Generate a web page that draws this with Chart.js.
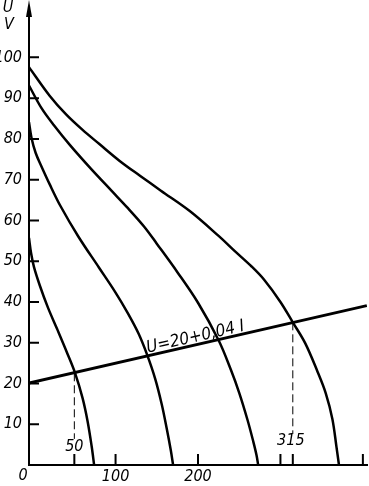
<!DOCTYPE html>
<html>
<head>
<meta charset="utf-8">
<script src="https://cdn.jsdelivr.net/npm/chart.js@4.4.1/dist/chart.umd.min.js"></script>
<style>
  html, body { margin: 0; padding: 0; background: #fff; }
  #wrap { width: 369px; height: 486px; }
</style>
</head>
<body>
<div id="wrap"><canvas id="chart"></canvas></div>
<script>
// falling U(I) characteristics (I in A, U in V)
// the drawn U axis sits a little left of I = 0, so the curves start at I = -5
const curve1I = [-5, -2.5, 1, 8, 18, 29, 41, 51, 60, 66, 71, 74];
const curve1U = [55.7, 52.0, 48.6, 44.1, 38.6, 33.4, 27.6, 22.5, 16.4, 10.8, 4.6, 0];

const curve2I = [-5, -2, 3, 10, 20, 33, 55, 80, 100, 115, 128, 138, 148, 156, 162, 167, 169.8];
const curve2U = [84.1, 80.3, 76.6, 73.3, 68.9, 63.6, 56.0, 48.4, 42.3, 37.2, 32.2, 27.2, 21.2, 14.9, 9.0, 3.6, 0];

const curve3I = [-5, 10, 25, 45, 70, 95, 115, 135, 150, 175, 200, 225, 240, 250, 260, 267, 271, 273];
const curve3U = [93.1, 87.6, 83.4, 78.4, 72.7, 67.3, 63.0, 58.4, 54.3, 47.3, 39.8, 30.6, 23.3, 17.7, 11.1, 5.8, 2.4, 0];

const curve4I = [-5, 20, 40, 60, 80, 105, 130, 155, 190, 225, 245, 265, 280, 300, 315, 330, 345, 355, 363, 368, 371];
const curve4U = [97.6, 90.6, 86.0, 82.2, 78.8, 74.6, 70.9, 67.3, 62.3, 56.2, 52.4, 48.7, 45.5, 40.0, 35.0, 29.9, 22.9, 17.6, 11.3, 4.4, 0];

// load line U = 20 + 0,04 I (as drawn)
const loadLineI = [-5, 404.8];
const loadLineU = [20.1, 39.1];
const loadLineText = 'U=20+0,04 I';
const loadLineTextAt = 140; // I where the label starts

// operating points dropped to the I axis
const markI = [50, 315];
const markTopU = [22.5, 35.0];
const markBottomU = [6.4, 7.6];

// axes
const xTicks = [100, 200, 300, 400];
const xLabeled = [100, 200];
const yTicks = [10, 20, 30, 40, 50, 60, 70, 80, 90, 100];

const FONT = '"Liberation Sans Narrow", "DejaVu Sans Condensed", "Liberation Sans", sans-serif';

const zip = (xs, ys) => xs.map((v, i) => ({ x: v, y: ys[i] }));

const curveStyle = {
  showLine: true, borderColor: '#000', borderWidth: 2.5,
  pointRadius: 0, tension: 0.35, fill: false
};

const datasets = [
  { ...curveStyle, data: zip(curve1I, curve1U) },
  { ...curveStyle, data: zip(curve2I, curve2U) },
  { ...curveStyle, data: zip(curve3I, curve3U) },
  { ...curveStyle, data: zip(curve4I, curve4U) },
  { showLine: true, borderColor: '#000', borderWidth: 3, pointRadius: 0, data: zip(loadLineI, loadLineU) },
];
markI.forEach((v, i) => {
  datasets.push({
    showLine: true, borderColor: '#000', borderWidth: 1, borderDash: [8, 4], pointRadius: 0,
    data: [{ x: v, y: markTopU[i] }, { x: v, y: markBottomU[i] }]
  });
});

// inward ticks, axis arrow, and the loose annotations of the drawing
const drawingExtras = {
  id: 'drawingExtras',
  afterDatasetsDraw(chart) {
    const { ctx, scales: { x, y } } = chart;
    const ax0 = x.left, y0 = y.getPixelForValue(0);
    ctx.save();
    ctx.strokeStyle = '#000';
    ctx.fillStyle = '#000';
    ctx.lineWidth = 2;
    ctx.beginPath();
    yTicks.forEach(v => { const py = y.getPixelForValue(v); ctx.moveTo(ax0, py); ctx.lineTo(ax0 + 10, py); });
    [...xTicks, ...markI].forEach(v => { const px = x.getPixelForValue(v); ctx.moveTo(px, y0); ctx.lineTo(px, y0 - 11); });
    ctx.stroke();

    // arrow head on the U axis
    ctx.beginPath();
    ctx.moveTo(ax0, 0); ctx.lineTo(ax0 - 3, 17); ctx.lineTo(ax0 + 3, 17); ctx.closePath();
    ctx.fill();

    ctx.textAlign = 'center';
    ctx.textBaseline = 'middle';
    ctx.font = 'italic 16px ' + FONT;
    ctx.fillText('U', 8, 8);
    ctx.fillText('V', 9, 25);

    ctx.fillText('0', 23, 476);
    ctx.fillText(String(markI[0]), x.getPixelForValue(markI[0]), y0 - 18);
    ctx.fillText(String(markI[1]), x.getPixelForValue(markI[1]) - 2, y0 - 24);

    // label along the load line
    const ax = x.getPixelForValue(loadLineI[0]), ay = y.getPixelForValue(loadLineU[0]);
    const bx = x.getPixelForValue(loadLineI[1]), by = y.getPixelForValue(loadLineU[1]);
    const ang = Math.atan2(by - ay, bx - ax);
    const lu = loadLineU[0] + (loadLineU[1] - loadLineU[0]) * (loadLineTextAt - loadLineI[0]) / (loadLineI[1] - loadLineI[0]);
    ctx.translate(x.getPixelForValue(loadLineTextAt), y.getPixelForValue(lu));
    ctx.rotate(ang);
    ctx.font = 'italic 17px ' + FONT;
    ctx.textAlign = 'left';
    ctx.textBaseline = 'alphabetic';
    ctx.fillText(loadLineText, 0, -3);
    ctx.restore();
  }
};

new Chart(document.getElementById('chart'), {
  type: 'scatter',
  data: { datasets },
  options: {
    responsive: true,
    maintainAspectRatio: false,
    animation: false,
    layout: { padding: { top: 1, right: 2, left: 0, bottom: 0 } },
    plugins: { legend: { display: false }, tooltip: { enabled: false } },
    scales: {
      x: {
        type: 'linear', min: -5, max: 405,
        afterFit: s => { s.height = 21; },
        afterBuildTicks: s => { s.ticks = xTicks.map(v => ({ value: v })); },
        grid: { drawOnChartArea: false, drawTicks: false },
        border: { color: '#000', width: 2 },
        ticks: {
          padding: 2, color: '#000', autoSkip: false, maxRotation: 0,
          font: { family: FONT, size: 16, style: 'italic' },
          callback: v => xLabeled.includes(v) ? String(v) : ''
        }
      },
      y: {
        type: 'linear', min: 0, max: 110,
        afterFit: s => { s.width = 29; },
        afterBuildTicks: s => { s.ticks = yTicks.map(v => ({ value: v })); },
        grid: { drawOnChartArea: false, drawTicks: false },
        border: { color: '#000', width: 2 },
        ticks: {
          padding: 7, color: '#000', autoSkip: false,
          font: { family: FONT, size: 16, style: 'italic' }
        }
      }
    }
  },
  plugins: [drawingExtras]
});
</script>
</body>
</html>
